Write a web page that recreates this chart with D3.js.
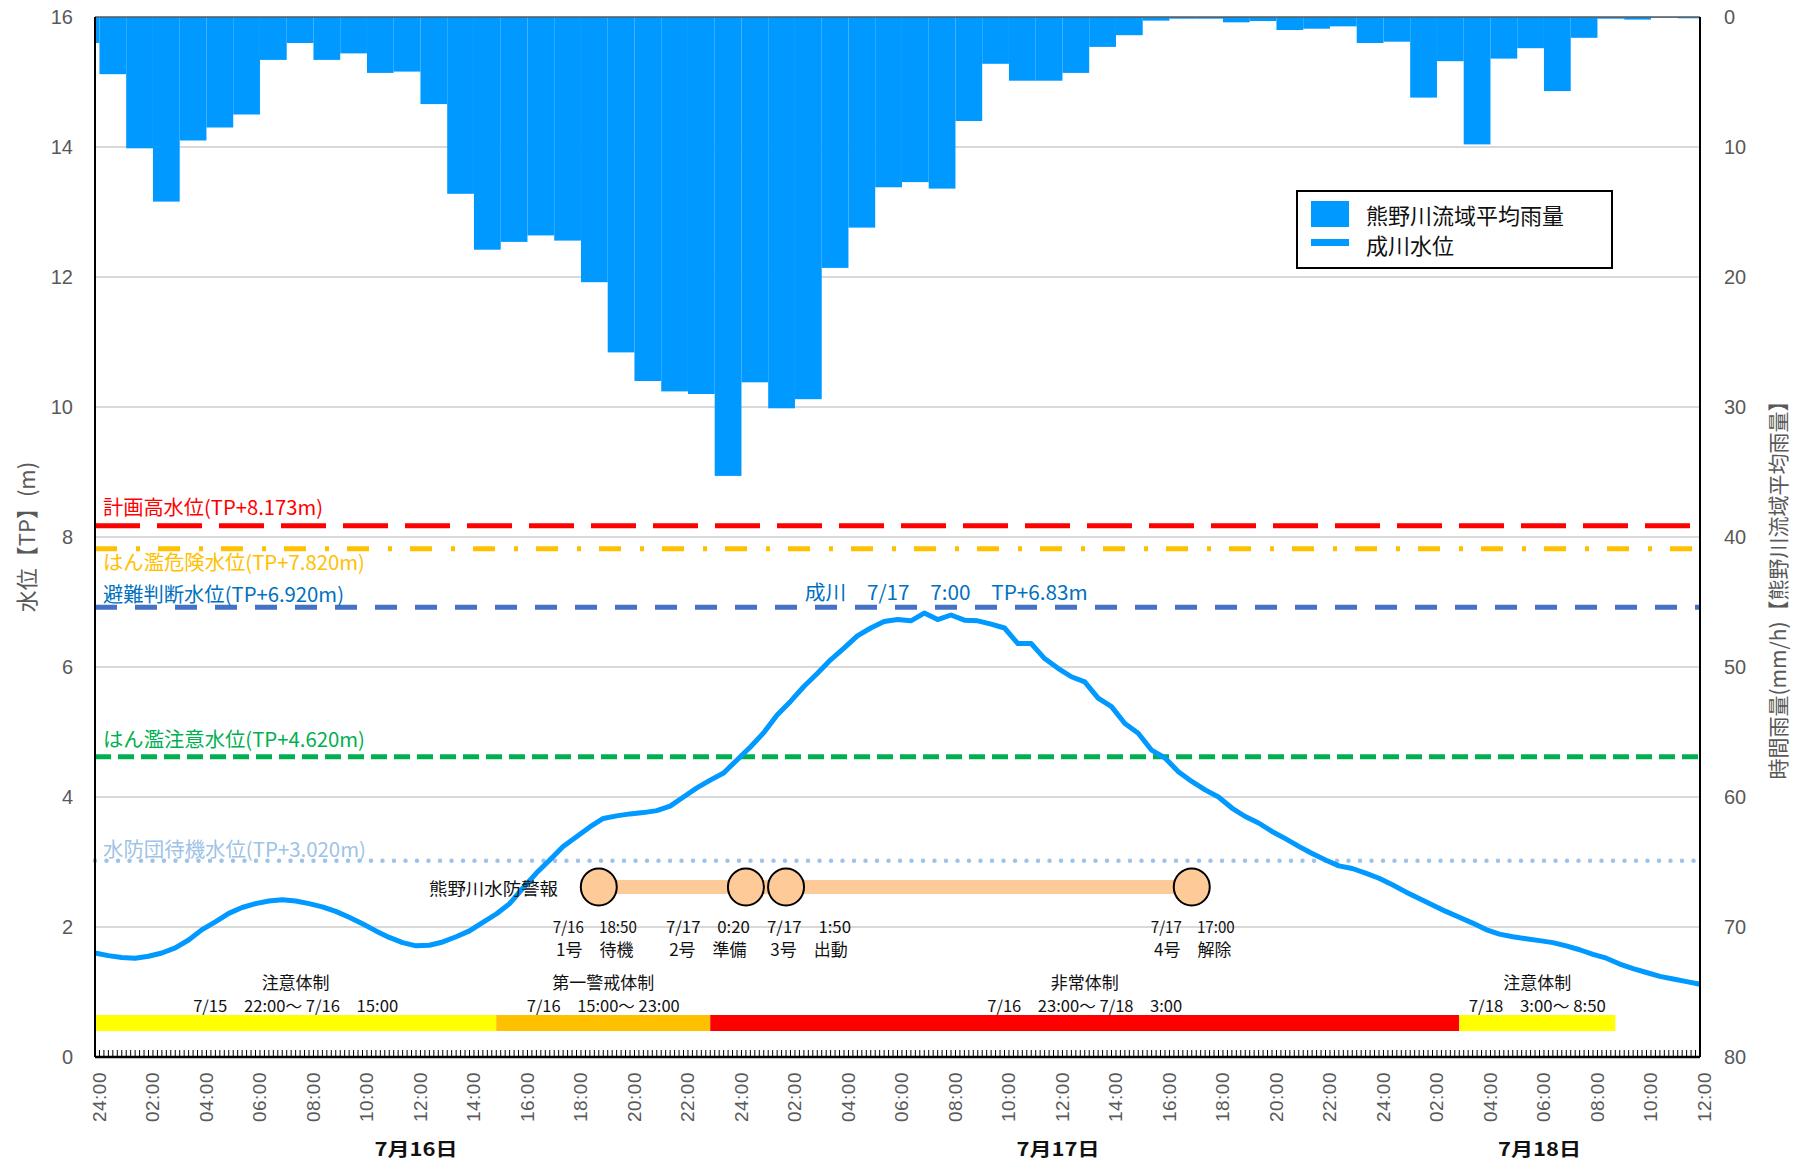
<!DOCTYPE html>
<html><head><meta charset="utf-8">
<script src="https://cdn.jsdelivr.net/npm/d3@7"></script>
<style>body{margin:0;background:#fff;} svg{display:block;}</style>
</head><body><svg id="c" width="1793" height="1162"></svg>
<script>
// hourly basin-average rainfall (mm/h); bar k covers (k-50min, k+10min) from 7/16 00:00
const rainfall = [2.0,4.4,10.1,14.2,9.5,8.5,7.5,3.3,2.0,3.3,2.8,4.3,4.2,6.7,13.6,17.9,17.3,16.8,17.2,20.4,
  25.8,28.0,28.8,29.0,35.3,28.1,30.1,29.4,19.3,16.2,13.1,12.7,13.2,8.0,3.6,4.9,4.9,4.3,2.3,1.4,
  0.28,0.13,0.13,0.41,0.31,1.0,0.9,0.72,2.0,1.9,6.2,3.4,9.8,3.2,2.4,5.7,1.6,0.13,0.2,0.05,0.1];
// water level (TP m) every 30 minutes from 7/16 00:00
const level = [1.60,1.56,1.53,1.52,1.55,1.60,1.68,1.80,1.96,2.08,2.21,2.30,2.36,2.40,2.42,2.40,2.36,2.31,2.24,2.15,
  2.05,1.94,1.84,1.76,1.71,1.72,1.77,1.85,1.94,2.07,2.20,2.36,2.60,2.83,3.03,3.24,3.39,3.54,3.67,3.71,
  3.74,3.76,3.79,3.86,4.00,4.14,4.26,4.37,4.57,4.77,4.99,5.26,5.47,5.70,5.90,6.11,6.29,6.48,6.60,6.70,
  6.73,6.71,6.83,6.73,6.80,6.72,6.71,6.66,6.60,6.36,6.36,6.13,5.98,5.85,5.77,5.52,5.39,5.13,4.98,4.72,
  4.60,4.39,4.24,4.11,4.00,3.83,3.70,3.60,3.47,3.36,3.24,3.13,3.03,2.94,2.90,2.83,2.75,2.65,2.54,2.44,
  2.34,2.24,2.15,2.06,1.96,1.89,1.85,1.82,1.79,1.76,1.71,1.65,1.58,1.52,1.43,1.36,1.30,1.24,1.20,1.16,1.12];
const xTickLabels = ["24:00","02:00","04:00","06:00","08:00","10:00","12:00","14:00","16:00","18:00","20:00","22:00",
  "24:00","02:00","04:00","06:00","08:00","10:00","12:00","14:00","16:00","18:00","20:00","22:00",
  "24:00","02:00","04:00","06:00","08:00","10:00","12:00"];
const leftTicks = [0,2,4,6,8,10,12,14,16];
const rightTicks = [0,10,20,30,40,50,60,70,80];
const refLevels = [8.173, 7.820, 6.920, 4.620, 3.020];
const refNames = ["計画高水位(TP+8.173m)","はん濫危険水位(TP+7.820m)","避難判断水位(TP+6.920m)","はん濫注意水位(TP+4.620m)","水防団待機水位(TP+3.020m)"];
const warnTimes = [18+50/60, 24+20/60, 25+50/60, 41];
const warnDates = ["7/16　18:50","7/17　0:20","7/17　1:50","7/17　17:00"];
const warnNames = ["1号　待機","2号　準備","3号　出動","4号　解除"];
const regimeStart = [-2, 15, 23, 51];
const regimeEnd = [15, 23, 51, 56+50/60];
const regimeNames = ["注意体制","第一警戒体制","非常体制","注意体制"];
const regimeDates = ["7/15　22:00～ 7/16　15:00","7/16　15:00～ 23:00","7/16　23:00～ 7/18　3:00","7/18　3:00～ 8:50"];
const dayLabels = ["7月16日","7月17日","7月18日"];
const dayCenters = [12, 36, 54];
const peakTime = 31, peakLevel = 6.83;
const peakLabel = "成川　7/17　7:00　TP+6.83m";

const svg = d3.select("#c");
const L = 95, R = 1700, T = 17, B = 1057;
const x = d3.scaleLinear().domain([0,60]).range([L,R]);
const yL = d3.scaleLinear().domain([0,16]).range([B,T]);
const yR = d3.scaleLinear().domain([0,80]).range([T,B]);
const JP = "'Noto Sans CJK JP','Noto Sans',sans-serif";
const NUM = "'Liberation Sans',Arial,sans-serif";
const gray = "#595959";

// gridlines
svg.append("g").selectAll("line").data(leftTicks.filter(d=>d>0&&d<16)).join("line")
  .attr("x1",L).attr("x2",R).attr("y1",d=>yL(d)).attr("y2",d=>yL(d))
  .attr("stroke","#d9d9d9").attr("stroke-width",2);

// rain bars
svg.append("g").selectAll("rect").data(rainfall).join("rect")
  .attr("x",(d,k)=>x(Math.max(0,k-50/60)))
  .attr("width",(d,k)=>x(Math.min(60,k+10/60))-x(Math.max(0,k-50/60)))
  .attr("y",yR(0)).attr("height",d=>yR(d)-yR(0))
  .attr("fill","#0099ff");

// reference lines
const refColors = ["#ff0000","#ffc000","#4472c4","#00b050","#9dc3e6"];
const refTextColors = ["#ff0000","#ffc000","#0070c0","#00b050","#9dc3e6"];
const refDash = ["45,17","22,19,4,18","22,18","16,7","0,11.5"];
const refTextDy = [-11, 21, -5, -10, -4];
const refTextW = [220, 262, 241, 262, 263];
refLevels.forEach((v,i)=>{
  svg.append("line").attr("x1",L).attr("x2",R).attr("y1",yL(v)).attr("y2",yL(v))
    .attr("stroke",refColors[i]).attr("stroke-width",i===4?4.5:5)
    .attr("stroke-dasharray",refDash[i]).attr("stroke-linecap",i===4?"round":"butt");
  svg.append("text").attr("x",103).attr("y",yL(v)+refTextDy[i])
    .attr("fill",refTextColors[i]).attr("font-family",JP).attr("font-size",20)
    .attr("textLength",refTextW[i]).attr("lengthAdjust","spacingAndGlyphs")
    .text(refNames[i]);
});

// peak label
svg.append("text").attr("x",x(peakTime)+22).attr("y",yL(6.92)-7)
  .attr("text-anchor","middle").attr("fill","#0070c0").attr("font-family",JP).attr("font-size",20)
  .attr("textLength",283).attr("lengthAdjust","spacingAndGlyphs").text(peakLabel);

// water level line
const line = d3.line().x((d,i)=>x(i*0.5)).y(d=>yL(d));
svg.append("path").datum(level).attr("d",line).attr("fill","none")
  .attr("stroke","#0099ff").attr("stroke-width",5).attr("stroke-linejoin","round");

// flood-fighting warnings
const wy = 887;
svg.append("line").attr("x1",x(warnTimes[0])).attr("x2",x(warnTimes[3])).attr("y1",wy).attr("y2",wy)
  .attr("stroke","#fdca98").attr("stroke-width",14);
svg.append("g").selectAll("ellipse").data(warnTimes).join("ellipse")
  .attr("cx",d=>x(d)).attr("cy",wy).attr("rx",18).attr("ry",18.5)
  .attr("fill","#fdca98").attr("stroke","#000").attr("stroke-width",2);
svg.append("text").attr("x",429).attr("y",895).attr("font-family",JP).attr("font-size",17)
  .attr("fill","#111").attr("textLength",129).attr("lengthAdjust","spacingAndGlyphs").text("熊野川水防警報");
const wShift = [-4, -38, 23, 1];
warnTimes.forEach((t,i)=>{
  svg.append("text").attr("x",x(t)+wShift[i]).attr("y",933).attr("text-anchor","middle")
    .attr("font-family",JP).attr("font-size",16).attr("fill","#111")
    .attr("textLength",84).attr("lengthAdjust","spacingAndGlyphs").text(warnDates[i]);
  svg.append("text").attr("x",x(t)+wShift[i]).attr("y",956).attr("text-anchor","middle")
    .attr("font-family",JP).attr("font-size",17).attr("fill","#111").text(warnNames[i]);
});

// regime bars
const regColors = ["#ffff00","#ffc000","#ff0000","#ffff00"];
const regDateW = [205, 153, 195, 137];
regimeStart.forEach((s,i)=>{
  const a = x(Math.max(0,s)), b = x(regimeEnd[i]);
  svg.append("rect").attr("x",a).attr("width",b-a).attr("y",1015).attr("height",16).attr("fill",regColors[i]);
  svg.append("text").attr("x",(a+b)/2).attr("y",989).attr("text-anchor","middle")
    .attr("font-family",JP).attr("font-size",17).attr("fill","#111").text(regimeNames[i]);
  svg.append("text").attr("x",(a+b)/2).attr("y",1012).attr("text-anchor","middle")
    .attr("font-family",JP).attr("font-size",16).attr("fill","#111")
    .attr("textLength",regDateW[i]).attr("lengthAdjust","spacingAndGlyphs").text(regimeDates[i]);
});

// frame
svg.append("line").attr("x1",L).attr("x2",R).attr("y1",T).attr("y2",T).attr("stroke","#595959").attr("stroke-width",1.5);
svg.append("line").attr("x1",L).attr("x2",L).attr("y1",T).attr("y2",B).attr("stroke","#000").attr("stroke-width",2);
svg.append("line").attr("x1",R).attr("x2",R).attr("y1",T).attr("y2",B).attr("stroke","#000").attr("stroke-width",2);
svg.append("line").attr("x1",L).attr("x2",R).attr("y1",B).attr("y2",B).attr("stroke","#000").attr("stroke-width",2.5);
// 10-minute minor ticks
svg.append("g").selectAll("line").data(d3.range(0,361)).join("line")
  .attr("x1",d=>x(d/6)).attr("x2",d=>x(d/6)).attr("y1",B).attr("y2",B-7)
  .attr("stroke","#000").attr("stroke-width",1);

// axes
const ax = svg.append("g").attr("transform",`translate(${L},0)`)
  .call(d3.axisLeft(yL).tickValues(leftTicks).tickSize(0).tickPadding(22));
const ar = svg.append("g").attr("transform",`translate(${R},0)`)
  .call(d3.axisRight(yR).tickValues(rightTicks).tickSize(0).tickPadding(24));
const ab = svg.append("g").attr("transform",`translate(0,${B})`)
  .call(d3.axisBottom(x).tickValues(d3.range(0,61,2)).tickFormat((d,i)=>xTickLabels[i]).tickSize(0));
[ax,ar,ab].forEach(g=>{g.select(".domain").remove();
  g.selectAll("text").attr("font-family",NUM).attr("font-size",20).attr("fill",gray);});
ab.selectAll("text").attr("transform","rotate(-90)").attr("text-anchor","end")
  .attr("x",-15).attr("y",0).attr("dy","0.55em").attr("font-size",19).attr("letter-spacing",0.5);

// day labels
svg.append("g").selectAll("text").data(dayLabels).join("text")
  .attr("x",(d,i)=>x(dayCenters[i])).attr("y",1156).attr("text-anchor","middle")
  .attr("font-family",JP).attr("font-size",18).attr("font-weight","bold").attr("fill","#111")
  .attr("textLength",83).attr("lengthAdjust","spacingAndGlyphs").text(d=>d);

// axis titles
svg.append("text").attr("transform","translate(25,537) rotate(-90)").attr("text-anchor","middle")
  .attr("dominant-baseline","central").attr("font-family",JP).attr("font-size",22).attr("fill",gray)
  .text("水位【TP】(m)");
svg.append("text").attr("transform","translate(1777,585) rotate(-90)").attr("text-anchor","middle")
  .attr("dominant-baseline","central").attr("font-family",JP).attr("font-size",21).attr("fill",gray)
  .text("時間雨量(mm/h)【熊野川流域平均雨量】");

// legend
const lg = svg.append("g");
lg.append("rect").attr("x",1297).attr("y",191).attr("width",315).attr("height",77)
  .attr("fill","#fff").attr("stroke","#000").attr("stroke-width",2);
lg.append("rect").attr("x",1311).attr("y",201).attr("width",38).attr("height",26).attr("fill","#0099ff");
lg.append("rect").attr("x",1311).attr("y",239).attr("width",38).attr("height",7).attr("fill","#0099ff");
lg.append("text").attr("x",1366).attr("y",224).attr("font-family",JP).attr("font-size",22).attr("fill","#111").text("熊野川流域平均雨量");
lg.append("text").attr("x",1366).attr("y",254).attr("font-family",JP).attr("font-size",22).attr("fill","#111").text("成川水位");
</script></body></html>
